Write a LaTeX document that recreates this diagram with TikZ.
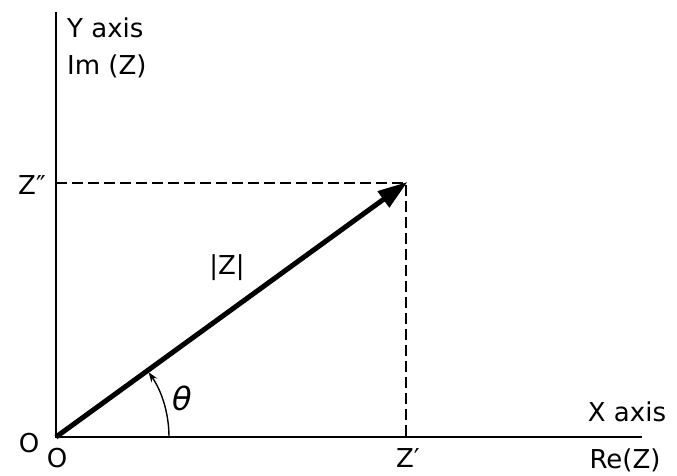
\documentclass[tikz,border=0pt]{standalone}
\usepackage{fontspec}
\setmainfont{DejaVu Sans}
\usetikzlibrary{arrows.meta}
\begin{document}
\begin{tikzpicture}[x=1pt,y=1pt,
  lbl/.style={font=\fontsize{26}{30}\selectfont, inner sep=0pt},
  axis/.style={line width=2.8pt},
  vec/.style={line width=5pt, -{Triangle[length=30pt,width=19pt]}, shorten >=-2pt},
  guide/.style={line width=2pt, dash pattern=on 11pt off 5pt}]
\useasboundingbox (0,0) rectangle (677,475);
\coordinate (O) at (56,38);
\coordinate (ytop) at (56,463);
\coordinate (xend) at (642,38);
\coordinate (P) at (406,292);
\coordinate (Px) at (406,38);
\coordinate (Py) at (56,292);
\draw[axis] (ytop) -- (O) -- (xend);
\draw[guide] (Py) -- (P) -- (Px);
\draw[vec] (O) -- (P);
\draw[line width=1.4pt, -{Stealth[length=10pt,width=7pt]}] (169,38) arc[start angle=0, end angle=35, radius=113];
\node[lbl, anchor=west] (yax) at (67,447) {Y axis};
\node[lbl, anchor=west] (imz) at (67,409) {Im (Z)};
\node[lbl] (zpp) at (32,290) {Z″};
\node[lbl] (modz) at (227,207) {|Z|};
\node[inner sep=0pt, font=\fontsize{32}{36}\selectfont\itshape] (th) at (182,77) {θ};
\node[lbl] (o1) at (29,32) {O};
\node[lbl] (o2) at (57,17) {O};
\node[lbl] (zp) at (408,17) {Z′};
\node[lbl] (xax) at (627,63) {X axis};
\node[lbl] (rez) at (625,15) {Re(Z)};
\end{tikzpicture}
\end{document}
